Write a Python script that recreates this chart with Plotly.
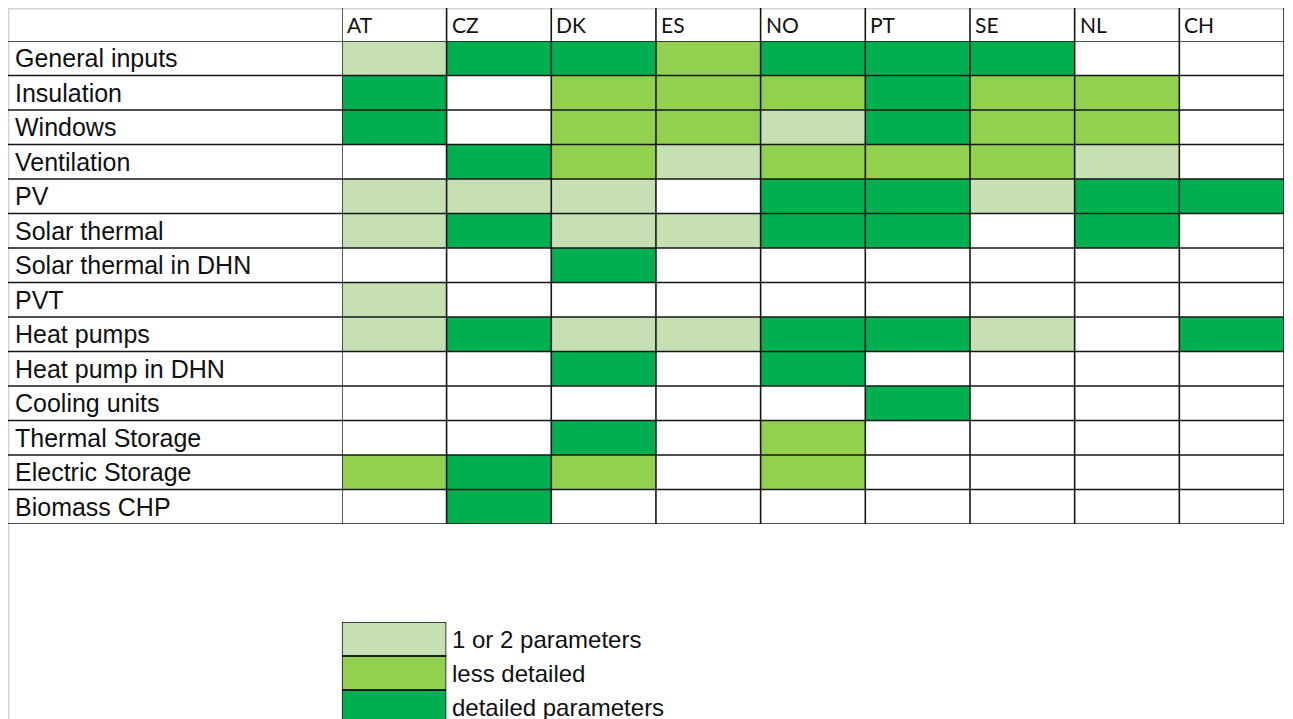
import plotly.graph_objects as go

# the page adds an 8px body margin and keeps ~8px on the right for the scrollbar
OFF = 8
W, H = 1293 - 2 * OFF, 719 - OFF

countries = ["AT", "CZ", "DK", "ES", "NO", "PT", "SE", "NL", "CH"]
components = [
    "General inputs", "Insulation", "Windows", "Ventilation", "PV",
    "Solar thermal", "Solar thermal in DHN", "PVT", "Heat pumps",
    "Heat pump in DHN", "Cooling units", "Thermal Storage",
    "Electric Storage", "Biomass CHP",
]

# 0 = not covered, 1 = 1 or 2 parameters, 2 = less detailed, 3 = detailed parameters
general_inputs = [1, 3, 3, 2, 3, 3, 3, 0, 0]
insulation = [3, 0, 2, 2, 2, 3, 2, 2, 0]
windows = [3, 0, 2, 2, 1, 3, 2, 2, 0]
ventilation = [0, 3, 2, 1, 2, 2, 2, 1, 0]
pv = [1, 1, 1, 0, 3, 3, 1, 3, 3]
solar_thermal = [1, 3, 1, 1, 3, 3, 0, 3, 0]
solar_thermal_dhn = [0, 0, 3, 0, 0, 0, 0, 0, 0]
pvt = [1, 0, 0, 0, 0, 0, 0, 0, 0]
heat_pumps = [1, 3, 1, 1, 3, 3, 1, 0, 3]
heat_pump_dhn = [0, 0, 3, 0, 3, 0, 0, 0, 0]
cooling_units = [0, 0, 0, 0, 0, 3, 0, 0, 0]
thermal_storage = [0, 0, 3, 0, 2, 0, 0, 0, 0]
electric_storage = [2, 3, 2, 0, 2, 0, 0, 0, 0]
biomass_chp = [0, 3, 0, 0, 0, 0, 0, 0, 0]

legend_labels = ["1 or 2 parameters", "less detailed", "detailed parameters"]
legend_levels = [1, 2, 3]

z = [general_inputs, insulation, windows, ventilation, pv, solar_thermal,
     solar_thermal_dhn, pvt, heat_pumps, heat_pump_dhn, cooling_units,
     thermal_storage, electric_storage, biomass_chp]

colorscale = [
    [0.0, "#FFFFFF"], [0.25, "#FFFFFF"],
    [0.25, "#C6E0B4"], [0.5, "#C6E0B4"],
    [0.5, "#92D050"], [0.75, "#92D050"],
    [0.75, "#00B050"], [1.0, "#00B050"],
]

# reference pixel -> paper fraction
def px_x(v):
    return min(1, max(0, (v - OFF) / (1292 - OFF + 1)))

def px_y(v):
    return min(1, max(0, 1 - (v - OFF) / H))

fig = go.Figure()

fig.add_trace(go.Heatmap(
    z=z,
    x=list(range(len(countries))),
    y=list(range(len(components))),
    colorscale=colorscale, zmin=-0.5, zmax=3.5,
    showscale=False,
    customdata=[[c for c in countries] for _ in components],
    hovertemplate="%{customdata}: %{z}<extra></extra>",
    xaxis="x", yaxis="y",
))

fig.add_trace(go.Heatmap(
    z=[[v] for v in legend_levels],
    x=[0],
    y=list(range(len(legend_levels))),
    colorscale=colorscale, zmin=-0.5, zmax=3.5,
    showscale=False, hoverinfo="skip",
    xaxis="x2", yaxis="y2",
))

n_rows = len(components)
n_cols = len(countries)
line = dict(color="#161616", width=1.6)

shapes = []
# light frame of the sheet (top and left)
shapes.append(dict(type="line", xref="paper", yref="paper", x0=0, x1=1,
                   y0=0.999, y1=0.999, line=dict(color="#D4D4D4", width=1.5)))
shapes.append(dict(type="line", xref="paper", yref="paper", x0=0.0005, x1=0.0005,
                   y0=1, y1=0, line=dict(color="#D4D4D4", width=1.5)))
# horizontal grid lines
for k in range(n_rows + 1):
    shapes.append(dict(type="line", xref="paper", yref="y", x0=px_x(8), x1=px_x(1292),
                       y0=k - 0.5, y1=k - 0.5, line=line))
# vertical grid lines (incl. header row)
for k in range(n_cols + 1):
    shapes.append(dict(type="line", xref="x", yref="paper", x0=k - 0.5, x1=k - 0.5,
                       y0=px_y(8), y1=px_y(524), line=line))
# legend boxes
for i in range(len(legend_levels)):
    shapes.append(dict(type="rect", xref="x2", yref="y2", x0=-0.5, x1=0.5,
                       y0=i - 0.5, y1=i + 0.5, line=line, fillcolor="rgba(0,0,0,0)"))

annotations = []
for i, c in enumerate(countries):
    annotations.append(dict(text=c, xref="x", yref="paper", x=i - 0.5, y=px_y(25),
                            xanchor="left", yanchor="middle", xshift=3, showarrow=False,
                            font=dict(family="Lato, Liberation Sans, sans-serif", size=21, color="#111111")))
for j, name in enumerate(components):
    annotations.append(dict(text=name, xref="paper", yref="y", x=px_x(13), y=j,
                            xanchor="left", yanchor="middle", showarrow=False,
                            font=dict(family="Liberation Sans, Arial, sans-serif", size=25, color="#111111")))
for j, name in enumerate(legend_labels):
    annotations.append(dict(text=name, xref="paper", yref="y2", x=px_x(453), y=j,
                            xanchor="left", yanchor="middle", showarrow=False,
                            font=dict(family="Liberation Sans, Arial, sans-serif", size=24, color="#111111")))

axis_off = dict(showgrid=False, zeroline=False, showticklabels=False, ticks="", showline=False)

fig.update_layout(
    width=W, height=H,
    margin=dict(l=0, r=0, t=0, b=0),
    paper_bgcolor="white",
    plot_bgcolor="white",
    xaxis=dict(domain=[px_x(344), px_x(1292)], range=[-0.5, n_cols - 0.5], **axis_off),
    yaxis=dict(domain=[px_y(524), px_y(41)], range=[n_rows - 0.5, -0.5], **axis_off),
    xaxis2=dict(domain=[px_x(344), px_x(449)], range=[-0.5, 0.5], anchor="y2", **axis_off),
    yaxis2=dict(domain=[0, px_y(622)], range=[-0.5 + 97 / 34, -0.5], anchor="x2", **axis_off),
    shapes=shapes,
    annotations=annotations,
    showlegend=False,
)

fig.write_html("out.html")
